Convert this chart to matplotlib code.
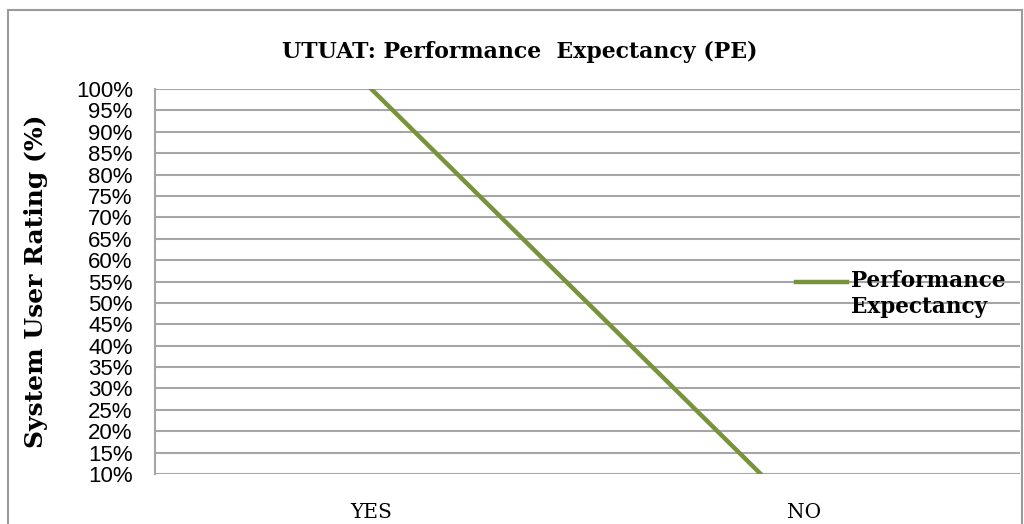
import matplotlib.pyplot as plt
from matplotlib.patches import Rectangle
from matplotlib.ticker import FuncFormatter, MultipleLocator

# Data
categories = ['YES', 'NO']
pe_values = [100, 0]
series_label = 'Performance\nExpectancy'

serif = 'DejaVu Serif'
sans = 'Liberation Sans'

fig = plt.figure(figsize=(10.24, 5.24), dpi=100)
ax = fig.add_axes([0.1514, 0.0954, 0.845, 0.7346])

# outer chart border (Excel style)
fig.patches.append(Rectangle((0.008, -0.05), 0.99, 1.031, transform=fig.transFigure,
                             fill=False, edgecolor='#9a9a9a', linewidth=1.5))

x = list(range(len(categories)))
ax.plot(x, pe_values, color='#77933C', linewidth=3.2, label=series_label, zorder=3)

ax.set_xlim(-0.5, len(categories) - 0.5)
ax.set_ylim(10, 100)
ax.yaxis.set_major_locator(MultipleLocator(5))
ax.yaxis.set_major_formatter(FuncFormatter(lambda v, p: f'{v:.0f}%'))
ax.set_xticks(x)
ax.set_xticklabels(categories, fontfamily=serif, fontsize=14.5)
ax.tick_params(axis='y', length=0, pad=16, labelsize=16)
ax.tick_params(axis='x', length=0, pad=21)
for lbl in ax.get_yticklabels():
    lbl.set_fontfamily(sans)

ax.grid(axis='y', color='#a6a6a6', linewidth=1.5)
ax.set_axisbelow(True)
for side in ['top', 'right', 'bottom']:
    ax.spines[side].set_visible(False)
ax.spines['left'].set_color('#a6a6a6')
ax.spines['left'].set_linewidth(1.5)

ax.set_ylabel('System User Rating (%)', fontfamily=serif, fontweight='bold', fontsize=18)
ax.yaxis.set_label_coords(-0.1237, 0.5)
fig.text(0.508, 0.9008, 'UTUAT: Performance  Expectancy (PE)', ha='center', va='center',
         fontfamily=serif, fontweight='bold', fontsize=15.8)

leg = ax.legend(loc='center left', bbox_to_anchor=(0.718, 0.46), frameon=False,
                handlelength=2.4, handletextpad=0.15, handleheight=4.6,
                prop={'family': serif, 'weight': 'bold', 'size': 15.5})

fig.savefig('out.png', dpi=100)
